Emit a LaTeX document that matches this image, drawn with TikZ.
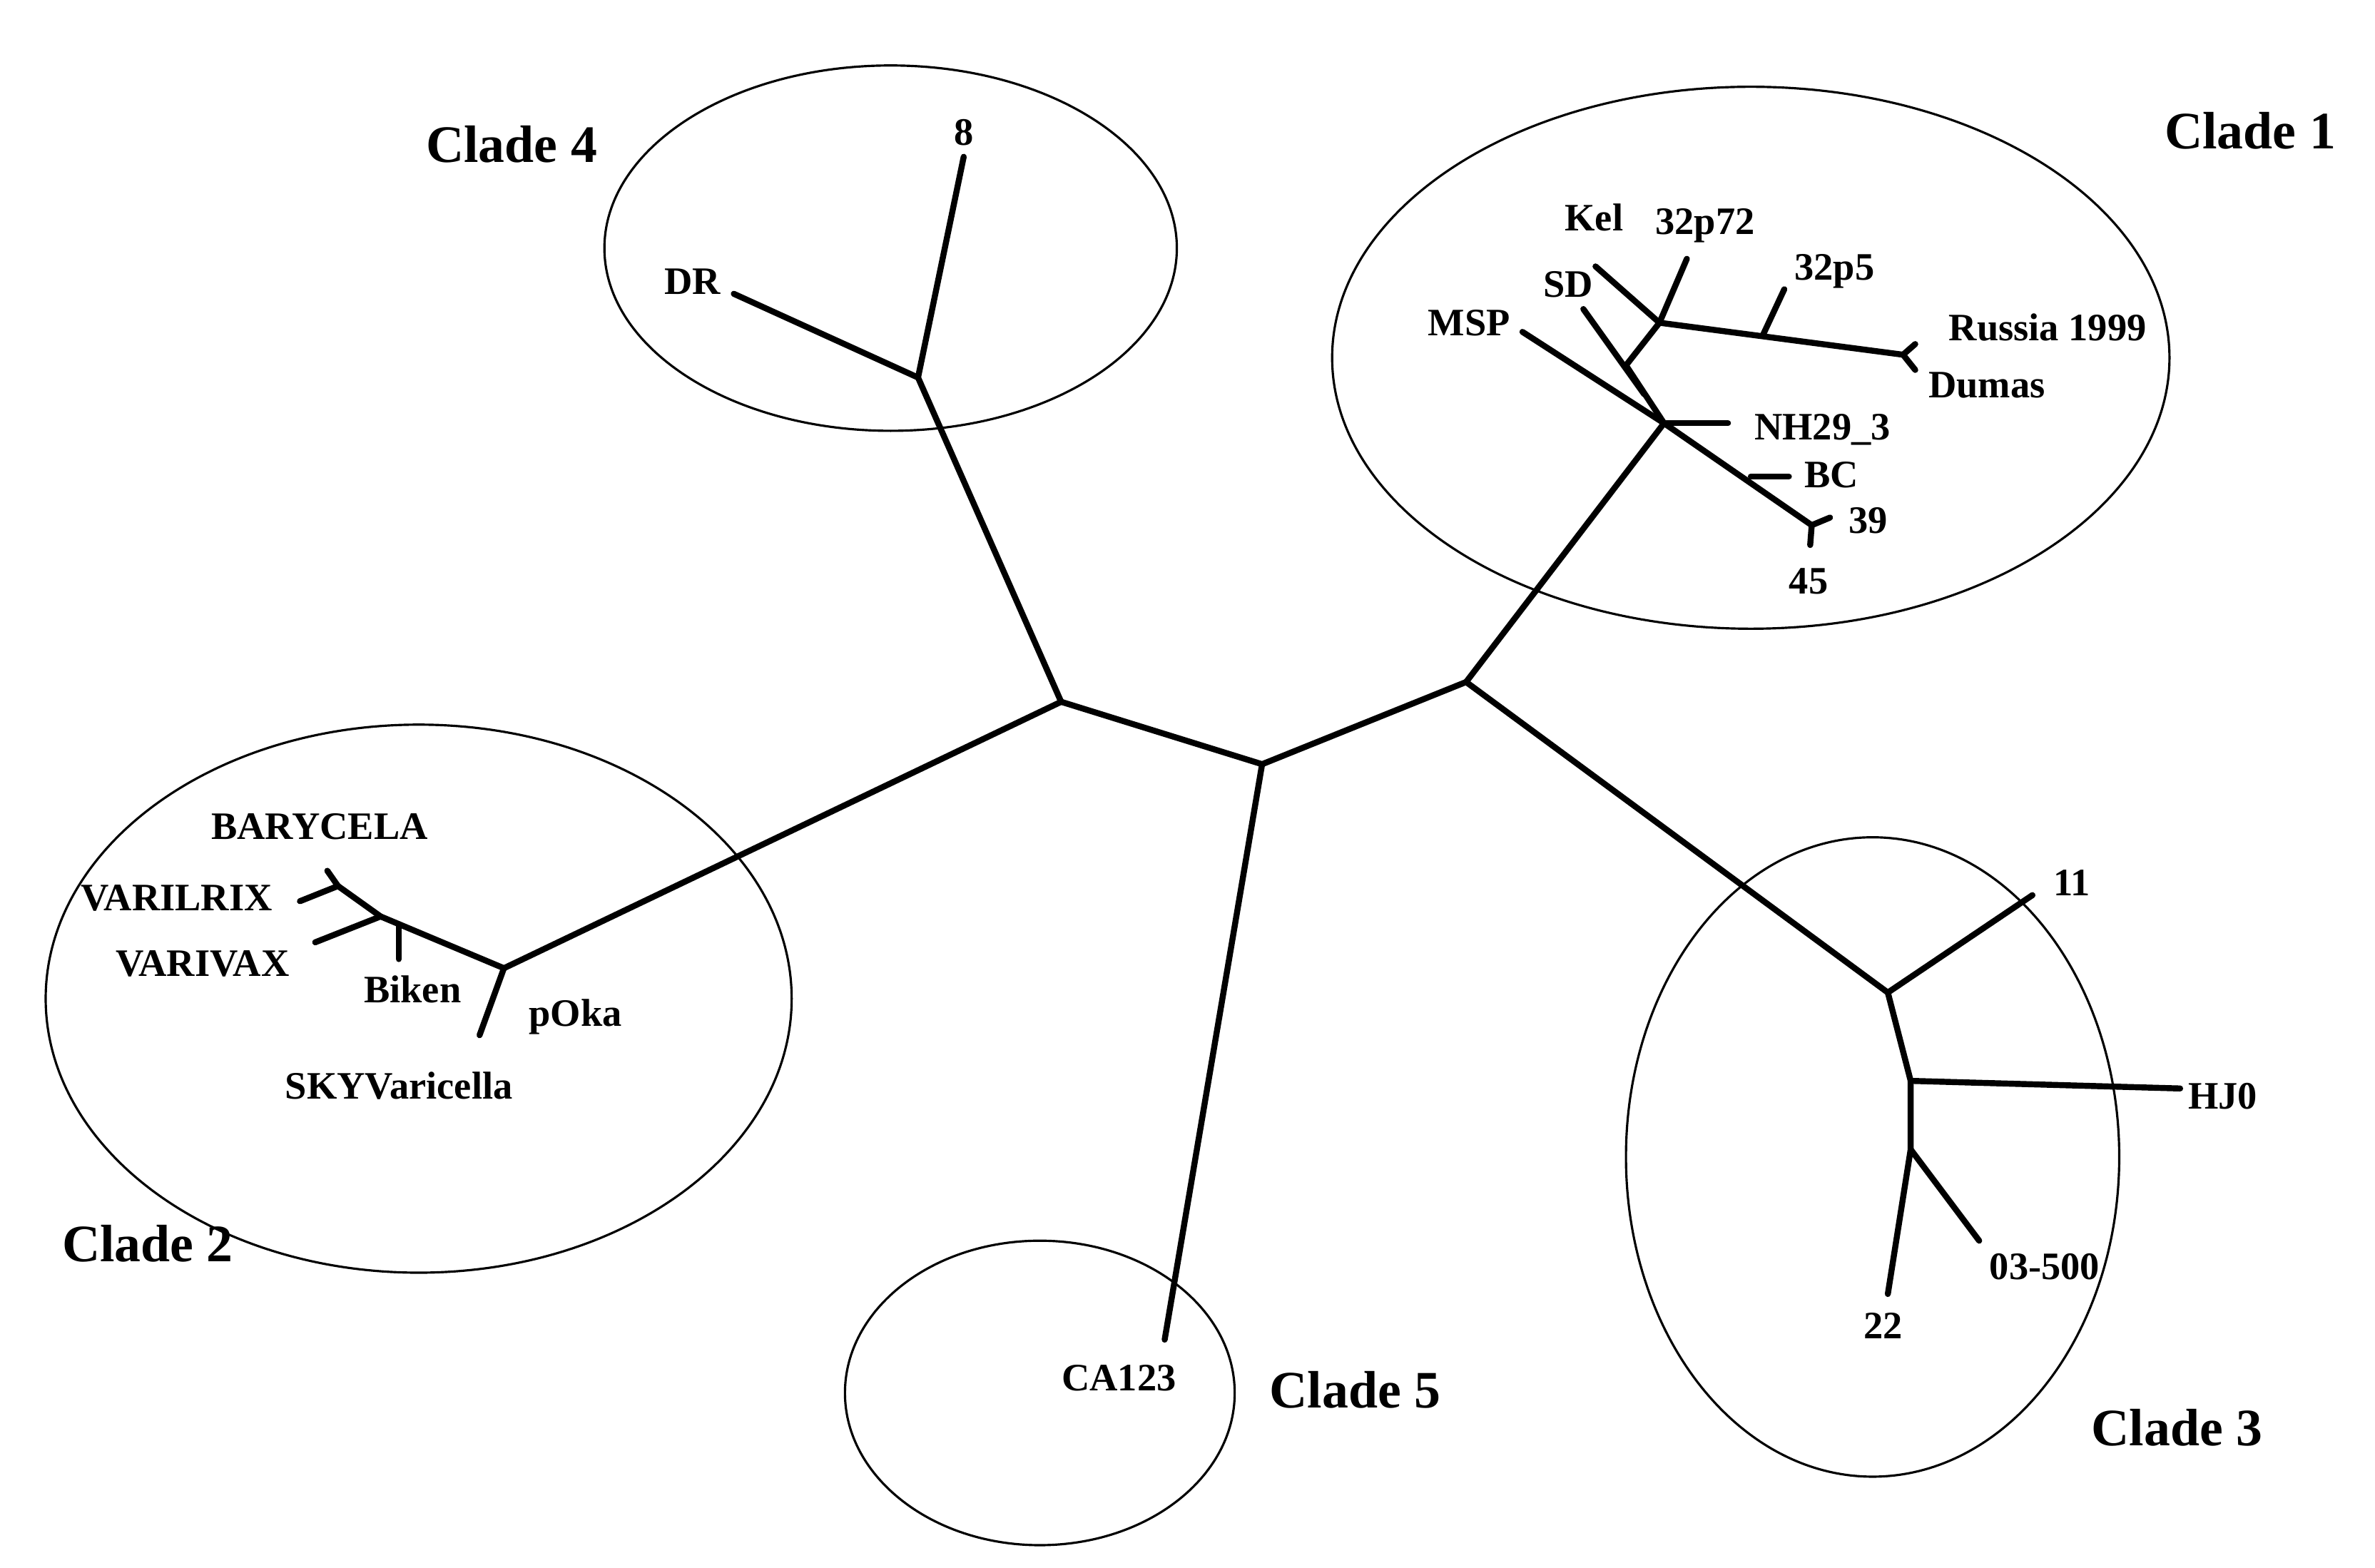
\documentclass[tikz,border=0pt]{standalone}
\usepackage{fontspec}
\setmainfont{Liberation Serif}
\begin{document}
\begin{tikzpicture}[x=0.02134cm,y=-0.02134cm,
  br/.style={line width=2.4pt,line cap=round,line join=round},
  cl/.style={line width=0.9pt},
  lf/.style={font=\bfseries\fontsize{15.5}{17}\selectfont,inner sep=0pt},
  cd/.style={font=\bfseries\fontsize{21}{23}\selectfont,inner sep=0pt}]
\useasboundingbox (0,0) rectangle (1560,1030);
% ellipses
\draw[cl] (585,163) ellipse [x radius=188,y radius=120];
\draw[cl] (1150,235) ellipse [x radius=275,y radius=178];
\draw[cl] (275,656) ellipse [x radius=245,y radius=180];
\draw[cl] (1230,760) ellipse [x radius=162,y radius=210];
\draw[cl] (683,915) ellipse [x radius=128,y radius=100];
% clade labels
\node[cd] (c4) at (336,95) {Clade 4};
\node[cd] (c1) at (1478,86) {Clade 1};
\node[cd] (c2) at (97,817) {Clade 2};
\node[cd] (c5) at (890,913) {Clade 5};
\node[cd] (c3) at (1430,938) {Clade 3};
% internal coordinates
\coordinate (A) at (697,461);
\coordinate (B) at (829,502);
\coordinate (C) at (963,448);
\coordinate (D) at (603,248);
\coordinate (P) at (331,636);
\coordinate (Q) at (250,602);
\coordinate (R) at (222,582);
\coordinate (Bk) at (262,607);
\coordinate (E) at (1093,278);
\coordinate (G) at (1068,240);
\coordinate (G2) at (1090,212);
\coordinate (Kx) at (1158,220);
\coordinate (H) at (1250,233);
\coordinate (BCx) at (1150,313);
\coordinate (N) at (1190,345);
\coordinate (F) at (1240,652);
\coordinate (I) at (1255,710);
\coordinate (J) at (1255,755);
% leaf ends
\coordinate (e8) at (633,103);
\coordinate (eDR) at (482,193);
\coordinate (eCA) at (765,880);
\coordinate (eSKY) at (315,680);
\coordinate (eBik) at (262,630);
\coordinate (eVV) at (207,619);
\coordinate (eVL) at (197,592);
\coordinate (eBA) at (215,572);
\coordinate (eMSP) at (1000,218);
\coordinate (eSD) at (1040,203);
\coordinate (eSDe) at (1080,259);
\coordinate (eKel) at (1048,175);
\coordinate (e72) at (1108,170);
\coordinate (e5) at (1172,190);
\coordinate (eRu) at (1258,226);
\coordinate (eDu) at (1258,243);
\coordinate (eNH) at (1135,278);
\coordinate (eBC) at (1175,313);
\coordinate (e39) at (1202,340);
\coordinate (e45) at (1189,358);
\coordinate (e11) at (1335,588);
\coordinate (eHJ) at (1432,715);
\coordinate (e22) at (1240,850);
\coordinate (e03) at (1300,815);
% branches
\draw[br] (A) -- (B) -- (C);
\draw[br] (B) -- (eCA);
\draw[br] (A) -- (D) -- (eDR);
\draw[br] (D) -- (e8);
\draw[br] (A) -- (P) -- (Q) -- (R) -- (eBA);
\draw[br] (R) -- (eVL);
\draw[br] (Q) -- (eVV);
\draw[br] (Bk) -- (eBik);
\draw[br] (P) -- (eSKY);
\draw[br] (C) -- (E) -- (eMSP);
\draw[br] (E) -- (G) -- (G2) -- (eKel);
\draw[br] (G2) -- (e72);
\draw[br] (G2) -- (H);
\draw[br] (Kx) -- (e5);
\draw[br] (eRu) -- (H) -- (eDu);
\draw[br] (eSD) -- (eSDe);
\draw[br] (E) -- (eNH);
\draw[br] (E) -- (N);
\draw[br] (BCx) -- (eBC);
\draw[br] (e39) -- (N) -- (e45);
\draw[br] (C) -- (F) -- (e11);
\draw[br] (F) -- (I) -- (eHJ);
\draw[br] (I) -- (J) -- (e22);
\draw[br] (J) -- (e03);
% leaf labels
\node[lf] (l8) at (633,87) {8};
\node[lf] (lDR) at (455,185) {DR};
\node[lf] (lKel) at (1047,143) {Kel};
\node[lf] (l72) at (1120,148) {32p72};
\node[lf] (l5) at (1205,178) {32p5};
\node[lf] (lSD) at (1030,187) {SD};
\node[lf] (lMSP) at (965,212) {MSP};
\node[lf] (lRu) at (1345,215) {Russia 1999};
\node[lf] (lDu) at (1305,253) {Dumas};
\node[lf] (lNH) at (1197,282) {NH29\_3};
\node[lf] (lBC) at (1203,312) {BC};
\node[lf] (l39) at (1227,342) {39};
\node[lf] (l45) at (1188,382) {45};
\node[lf] (lBA) at (210,543) {BARYCELA};
\node[lf] (lVL) at (116,590) {VARILRIX};
\node[lf] (lVV) at (133,633) {VARIVAX};
\node[lf] (lBik) at (271,650) {Biken};
\node[lf] (lOka) at (378,668) {pOka};
\node[lf] (lSKY) at (262,713) {SKYVaricella};
\node[lf] (l11) at (1361,580) {11};
\node[lf] (lHJ) at (1460,720) {HJ0};
\node[lf] (l03) at (1343,832) {03-500};
\node[lf] (l22) at (1237,871) {22};
\node[lf] (lCA) at (735,905) {CA123};
\end{tikzpicture}
\end{document}
